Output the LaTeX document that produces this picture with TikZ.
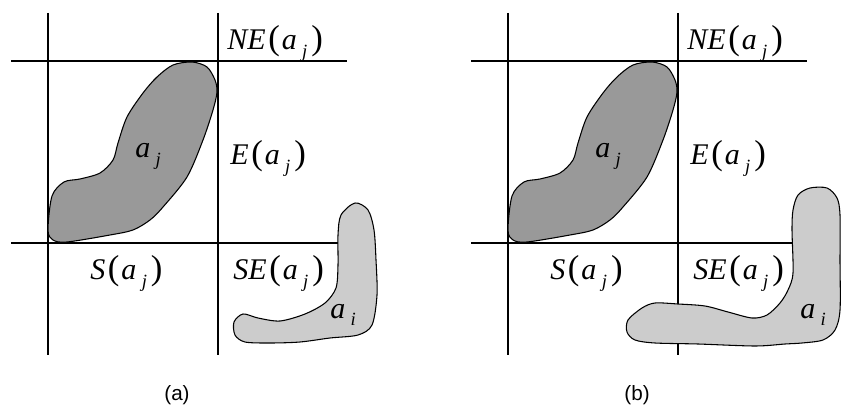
\documentclass[tikz,border=0pt]{standalone}
\usepackage{fontspec}
\setmainfont{Liberation Serif}
\newfontfamily\capfont{Liberation Sans}
\newcommand{\subl}[1]{\hspace{4pt}\raisebox{-5.5pt}{\fontsize{14}{14}\selectfont\textit{#1}}}
\newcommand{\pl}{{\fontsize{26}{26}\selectfont(}}
\newcommand{\pr}{{\fontsize{26}{26}\selectfont)}}
\newcommand{\rgn}[1]{\textit{#1}\hspace{2pt}\pl\hspace{1.5pt}\textit{a}\subl{j}\hspace{3pt}\pr}
\begin{document}
\begin{tikzpicture}[x=0.75pt,y=-0.75pt,
  grid/.style={line width=0.8pt,black},
  blobj/.style={fill={rgb,255:red,153;green,153;blue,153},draw=black,line width=0.8pt},
  blobi/.style={fill={rgb,255:red,204;green,204;blue,204},draw=black,line width=0.8pt},
  lab/.style={anchor=base west,inner sep=0pt,font=\fontsize{22.5}{24}\selectfont},
  captext/.style={inner sep=0pt,font=\capfont\fontsize{15.5}{16}\selectfont}]
\useasboundingbox (0,0) rectangle (841,416);
\foreach \dx/\nm in {0/a,460/b}{
\begin{scope}[xshift=\dx*0.75pt]
  \draw[grid] (48,13) -- (48,355);
  \draw[grid] (218,13) -- (218,355);
  \draw[grid] (11,61) -- (347,61);
  \draw[grid] (11,243) -- (347,243);
  \draw[blobj] plot[smooth cycle,tension=0.5] coordinates {
    (192,62) (207,67) (215,80) (217,92) (213,110) (203,140) (187,177) (163,207)
    (150,220) (133,230) (110,235) (67,242) (53,240) (48,230) (52,196) (64,182)
    (80,179) (100,173) (113,160) (118,143) (127,117) (143,93) (157,77) (173,65)};
  \node[lab] (aj\nm) at (135,158) {\textit{a}\subl{j}};
  \node[lab] (ne\nm) at (227,50) {\rgn{NE}};
  \node[lab] (e\nm) at (230,165) {\rgn{E}};
  \node[lab] (s\nm) at (90,280) {\rgn{S}};
  \node[lab] (se\nm) at (233,280) {\rgn{SE}};
\end{scope}}
\draw[blobi] plot[smooth cycle,tension=0.5] coordinates {
  (355,203) (368,210) (374,230) (376,260) (377,295) (372,325) (358,335) (330,338)
  (300,342) (270,343) (245,342) (235,335) (234,322) (243,314) (258,318) (280,321)
  (305,314) (325,303) (336,288) (338,265) (338,235) (341,215)};
\node[lab] (aia) at (330,318) {\textit{a}\subl{i}};
\draw[blobi] plot[smooth cycle,tension=0.5] coordinates {
  (810,188) (827,188) (837,198) (840,215) (840,260) (840,310) (835,330) (823,340)
  (802,343) (785,344) (755,346) (698,344) (655,343) (635,340) (627,332) (628,320)
  (642,308) (655,303) (678,304) (705,306) (728,312) (752,318) (767,315) (780,303)
  (788,290) (793,273) (792,230) (793,210) (798,195)};
\node[lab] (aib) at (800,318) {\textit{a}\subl{i}};
\node[captext] (capa) at (177,395) {(a)};
\node[captext] (capb) at (637,395) {(b)};
\end{tikzpicture}
\end{document}
